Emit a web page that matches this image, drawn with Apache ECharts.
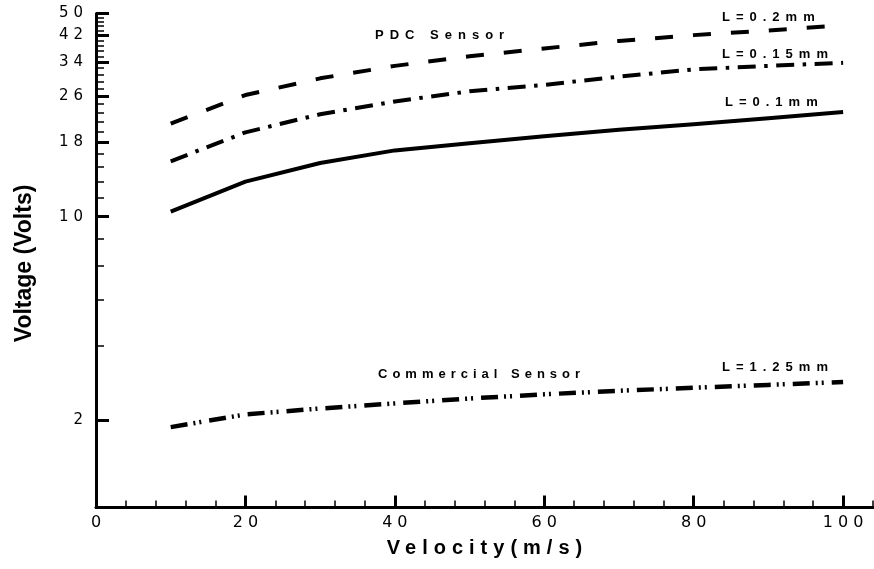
<!DOCTYPE html>
<html><head><meta charset="utf-8">
<script src="https://cdn.jsdelivr.net/npm/echarts@6/dist/echarts.min.js"></script>
<style>html,body{margin:0;padding:0;background:#fff}#c{width:874px;height:569px}</style>
</head><body><div id="c"></div>
<script>
// ---- data ----
const velocity = [10, 20, 30, 40, 50, 60, 70, 80, 90, 100];
const pdc02 = [20.9, 26.2, 29.9, 33.0, 35.6, 37.9, 40.2, 42.1, 43.7, 45.5];
const pdc015 = [15.5, 19.5, 22.5, 24.9, 27.0, 28.4, 30.3, 32.1, 33.0, 33.8];
const pdc01 = [10.4, 13.2, 15.3, 16.9, 17.9, 18.9, 19.9, 20.8, 21.8, 22.9];
const commercial = [1.89, 2.09, 2.19, 2.28, 2.37, 2.45, 2.52, 2.58, 2.64, 2.70];
const yMajorTicks = [2, 10, 18, 26, 34, 42, 50];
const yMinorTicks = [3.6, 5.2, 6.8, 8.4, 11.6, 13.2, 14.8, 16.4, 19.6, 21.2, 22.8, 24.4,
  27.6, 29.2, 30.8, 32.4, 35.6, 37.2, 38.8, 40.4, 43.6, 45.2, 46.8, 48.4];
const xMajorTicks = [0, 20, 40, 60, 80, 100];
const xMinorTicks = [4, 8, 12, 16, 24, 28, 32, 36, 44, 48, 52, 56, 64, 68, 72, 76, 84, 88, 92, 96, 104];
const seriesNames = ['L=0.2mm', 'L=0.15mm', 'L=0.1mm', 'L=1.25mm'];

// ---- letter spacing by text (text stays real text) ----
const SPACING = {
  'Velocity(m/s)': 6, 'PDC Sensor': 6, 'L=0.2mm': 6, 'L=0.15mm': 6, 'L=0.1mm': 6,
  'Commercial Sensor': 5, 'L=1.25mm': 6
};
(function () {
  const proto = CanvasRenderingContext2D.prototype;
  if (!('letterSpacing' in proto)) return;
  const orig = proto.fillText;
  proto.fillText = function (t, x, y, w) {
    const str = String(t);
    const s = /^\d+$/.test(str) ? 5 : (SPACING[str] || 0);
    const prev = this.letterSpacing;
    this.letterSpacing = s + 'px';
    let dx = 0;
    if (this.textAlign === 'center') dx = s / 2;
    else if (this.textAlign === 'right' || this.textAlign === 'end') dx = s;
    const r = w === undefined ? orig.call(this, t, x + dx, y) : orig.call(this, t, x + dx, y, w);
    this.letterSpacing = prev;
    return r;
  };
})();

const FONT = 'Liberation Sans, Arial, sans-serif';
const TICKFONT = 'DejaVu Sans, sans-serif';
const chart = echarts.init(document.getElementById('c'), null, { renderer: 'canvas' });

function mkLine(name, data, type, width) {
  return {
    name: name, type: 'line', xAxisIndex: 0, yAxisIndex: 0,
    data: velocity.map((v, i) => [v, data[i]]),
    symbol: 'none', smooth: false, silent: true,
    lineStyle: { color: '#000', width: width, type: type, cap: 'butt', join: 'round' }
  };
}

const annotations = [
  { text: 'PDC Sensor', x: 375, y: 35 },
  { text: 'L=0.2mm', x: 722, y: 17 },
  { text: 'L=0.15mm', x: 722, y: 54 },
  { text: 'L=0.1mm', x: 725, y: 102 },
  { text: 'Commercial Sensor', x: 378, y: 374 },
  { text: 'L=1.25mm', x: 722, y: 367 }
];

chart.setOption({
  animation: false,
  backgroundColor: '#fff',
  grid: { left: 96, right: 1, top: 13.4, bottom: 61.5, containLabel: false },
  xAxis: [{
    type: 'value', min: 0, max: 104, position: 'bottom',
    axisLine: { show: true, lineStyle: { color: '#000', width: 3 } },
    axisTick: { show: true, inside: true, length: 12, lineStyle: { color: '#000', width: 3 }, customValues: xMajorTicks },
    axisLabel: { customValues: xMajorTicks, color: '#000', fontSize: 16, fontFamily: TICKFONT, margin: 7 },
    splitLine: { show: false },
    name: 'Velocity(m/s)', nameLocation: 'middle', nameGap: 31,
    nameTextStyle: { color: '#000', fontSize: 20, fontWeight: 'bold', fontFamily: FONT }
  }, {
    type: 'value', min: 0, max: 104, position: 'bottom', offset: 0,
    axisLine: { show: false },
    axisTick: { show: true, inside: true, length: 7, lineStyle: { color: '#000', width: 1.5 }, customValues: xMinorTicks },
    axisLabel: { show: false }, splitLine: { show: false }
  }],
  yAxis: [{
    type: 'log', logBase: 10, min: 1, max: 50, position: 'left',
    axisLine: { show: true, lineStyle: { color: '#000', width: 3 } },
    axisTick: { show: true, inside: true, length: 13, lineStyle: { color: '#000', width: 3 }, customValues: yMajorTicks },
    axisLabel: { customValues: yMajorTicks, color: '#000', fontSize: 15, fontFamily: TICKFONT, margin: 13 },
    splitLine: { show: false }, minorTick: { show: false },
    name: 'Voltage (Volts)', nameLocation: 'middle', nameGap: 60, nameRotate: 90,
    nameTextStyle: { color: '#000', fontSize: 23, fontWeight: 'bold', fontFamily: FONT, padding: [0, 6, 0, 0] }
  }, {
    type: 'log', logBase: 10, min: 1, max: 50, position: 'left', offset: 0,
    axisLine: { show: false },
    axisTick: { show: true, inside: true, length: 8, lineStyle: { color: '#000', width: 1.5 }, customValues: yMinorTicks },
    axisLabel: { show: false }, splitLine: { show: false }
  }],
  series: [
    mkLine(seriesNames[0], pdc02, [18, 20], 4),
    mkLine(seriesNames[1], pdc015, [18, 8.5, 3.5, 8.5], 4),
    mkLine(seriesNames[2], pdc01, 'solid', 4),
    mkLine(seriesNames[3], commercial, [17, 6, 2, 4, 2, 8], 4.5)
  ],
  graphic: annotations.map(a => ({
    type: 'text', x: a.x, y: a.y, silent: true,
    style: { text: a.text, fill: '#000', font: 'bold 13px ' + FONT, align: 'left', verticalAlign: 'middle' }
  }))
});
</script>
</body></html>
